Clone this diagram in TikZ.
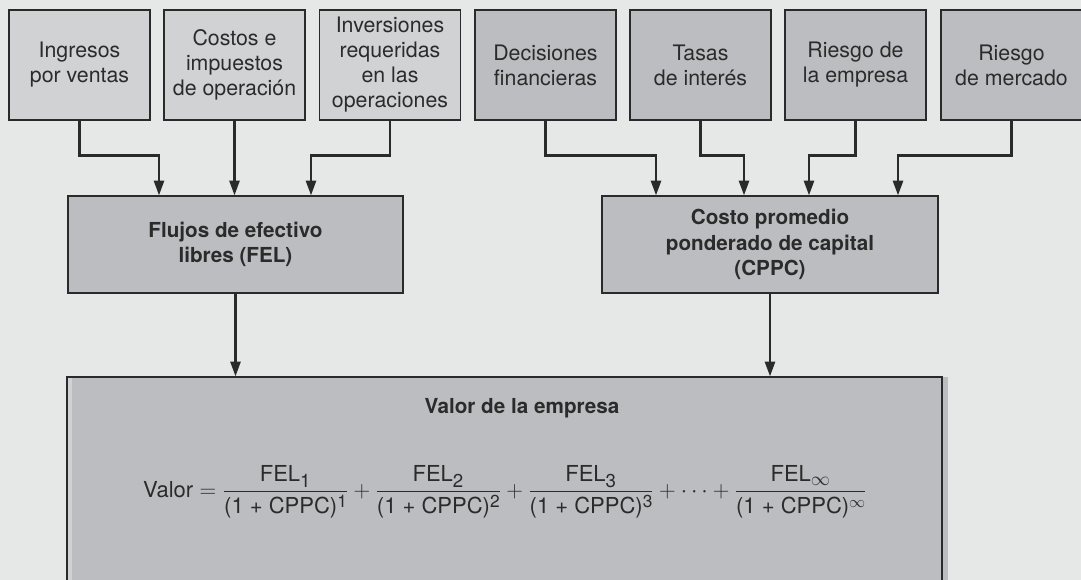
\documentclass[tikz,border=0pt]{standalone}
\usepackage{amsmath}
\usepackage{fontspec}
\setmainfont{TeX Gyre Heros}
\usepackage{tikz}
\usetikzlibrary{arrows.meta,positioning,calc}
\definecolor{fondo}{HTML}{E6E8E7}
\definecolor{claro}{HTML}{D1D2D4}
\definecolor{oscuro}{HTML}{BCBDC0}
\definecolor{linea}{HTML}{2A2A2A}
\definecolor{texto}{HTML}{2B2B2B}
\tikzstyle{caja}=[rectangle, draw=linea, line width=0.9pt, text=texto, align=center, minimum width=105.75pt, minimum height=82.5pt, inner sep=1pt, font=\fontsize{16}{18.75}\selectfont]
\tikzstyle{operacion}=[caja, fill=claro]
\tikzstyle{capital}=[caja, fill=oscuro]
\tikzstyle{resumen}=[caja, fill=oscuro, minimum width=251.25pt, minimum height=72.75pt, font=\fontsize{15.5}{19.3}\selectfont\bfseries]
\tikzstyle{flecha}=[draw=linea, line width=1.8pt, -{Triangle[length=11pt,width=7.5pt]}]
\newcommand{\felfrac}[2]{\dfrac{\mbox{FEL}_{\mbox{\fontsize{14}{14}\selectfont #1}}}{\mbox{(1 + CPPC)\raisebox{4.5pt}{\fontsize{13}{13}\selectfont #2}}}}

\begin{document}
\begin{tikzpicture}[x=0.75pt,y=-0.75pt]
				\useasboundingbox (0,0) rectangle (1081,580);
				\clip (0,0) rectangle (1081,580);
				\fill[fondo] (0,0) rectangle (1081,580);
				
				\node[operacion] (IV)at(79.5,65){Ingresos\\por ventas};
				\node[operacion] (CI)at(234.5,65){Costos e\\impuestos\\de operación};
				\node[operacion] (IO)at(390,65){Inversiones\\requeridas\\en las\\operaciones};
				\node[capital] (DF)at(545.5,65){Decisiones\\financieras};
				\node[capital] (TI)at(700.5,65){Tasas\\de interés};
				\node[capital] (RE)at(855.5,65){Riesgo de\\la empresa};
				\node[capital] (RM)at(1011.5,65){Riesgo\\de mercado};
				\node[resumen] (FEL)at(235.5,244.5){Flujos de efectivo\\libres (FEL)};
				\node[resumen, minimum width=252pt] (CPPC)at(770,244.5){Costo promedio\\ponderado de capital\\(CPPC)};
				
				\fill[oscuro] (72,377) rectangle (948,590);
				\fill[claro] (67,377) rectangle (72,590);
				\node[draw=linea, line width=0.9pt, minimum width=656.25pt, minimum height=159.75pt, inner sep=0pt] (VE)at(504.5,483.5){};
				\node[text=texto, font=\fontsize{15.5}{18}\selectfont\bfseries] (titulo)at(522,408){Valor de la empresa};
				\node[text=texto, font=\fontsize{16.5}{18}\selectfont] (formula)at(505,492){$\mbox{Valor} = \felfrac{1}{1} + \felfrac{2}{2} + \felfrac{3}{3} + \cdots + \felfrac{$\infty$}{$\infty$}$};
				
				\draw[flecha](IV.south)--++(0,35)-|($(FEL.north)+(-76.5,0)$);
				\draw[flecha](CI.south)--(CI.south|-FEL.north);
				\draw[flecha](IO.south)--++(0,35)-|($(FEL.north)+(75.5,0)$);
				\draw[flecha](DF.south)--++(0,35)-|($(CPPC.north)+(-114,0)$);
				\draw[flecha](TI.south)--++(0,35)-|($(CPPC.north)+(-26,0)$);
				\draw[flecha](RE.south)--++(0,35)-|($(CPPC.north)+(39,0)$);
				\draw[flecha](RM.south)--++(0,35)-|($(CPPC.north)+(128,0)$);
				\draw[flecha](FEL.south)--(FEL.south|-VE.north);
				\draw[flecha](CPPC.south)--(CPPC.south|-VE.north);
			\end{tikzpicture}
\end{document}
